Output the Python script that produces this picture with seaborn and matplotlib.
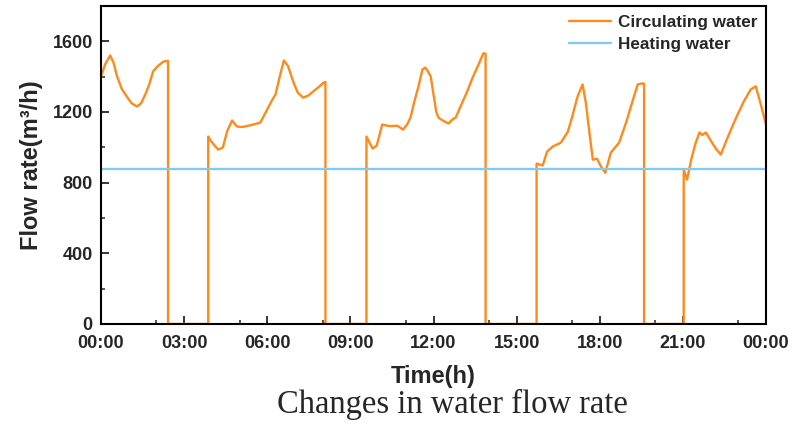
import numpy as np
import pandas as pd
import matplotlib
matplotlib.use("Agg")
import matplotlib.pyplot as plt
from matplotlib.ticker import FixedLocator, FuncFormatter
import seaborn as sns

# ---- data (hours since 00:00, flow m3/h) ----
seg1_h = [0, 0.15, 0.33, 0.45, 0.58, 0.75, 0.93, 1.1, 1.3, 1.45, 1.6, 1.75, 1.88, 2.05, 2.25, 2.42]
seg1_v = [1401, 1470, 1520, 1480, 1401, 1330, 1288, 1250, 1231, 1250, 1300, 1360, 1430, 1460, 1485, 1490]

seg2_h = [3.87, 3.95, 4.1, 4.23, 4.4, 4.55, 4.73, 4.9, 5.1, 5.4, 5.75, 5.95, 6.15, 6.3, 6.45, 6.6,
          6.75, 6.95, 7.1, 7.3, 7.5, 7.67, 7.85, 8.03, 8.1]
seg2_v = [1061, 1040, 1010, 987, 1000, 1090, 1152, 1118, 1115, 1125, 1140, 1200, 1260, 1300, 1400, 1492,
          1460, 1366, 1310, 1281, 1295, 1318, 1340, 1366, 1370]

seg3_h = [9.58, 9.8, 9.95, 10.15, 10.4, 10.7, 10.9, 11.05, 11.17, 11.3, 11.45, 11.6, 11.7, 11.8, 11.9,
          12.0, 12.1, 12.18, 12.35, 12.54, 12.7, 12.8, 13.0, 13.2, 13.4, 13.6, 13.8, 13.88]
seg3_v = [1061, 993, 1010, 1129, 1120, 1122, 1100, 1130, 1168, 1254, 1340, 1440, 1452, 1430, 1401,
          1300, 1200, 1168, 1150, 1135, 1160, 1168, 1240, 1310, 1390, 1460, 1532, 1530]

seg4_h = [15.72, 15.94, 16.1, 16.3, 16.6, 16.85, 17.0, 17.2, 17.38, 17.5, 17.6, 17.75, 17.9, 18.05,
          18.2, 18.4, 18.7, 18.95, 19.2, 19.37, 19.55, 19.6]
seg4_v = [908, 897, 976, 1004, 1027, 1089, 1170, 1288, 1356, 1250, 1118, 930, 936, 890,
          856, 970, 1027, 1140, 1270, 1356, 1362, 1360]

seg5_h = [21.03, 21.15, 21.3, 21.45, 21.6, 21.7, 21.83, 22.0, 22.2, 22.37, 22.6, 22.9, 23.2, 23.45,
          23.63, 23.8, 24.0]
seg5_v = [874, 817, 930, 1020, 1084, 1070, 1084, 1040, 990, 959, 1050, 1160, 1260, 1328,
          1345, 1250, 1129]

heating_h = [0, 24]
heating_v = [880, 880]

x_ticks = [0, 3, 6, 9, 12, 15, 18, 21, 24]
x_minor = [2, 5, 8, 11, 14, 17, 20, 23]
y_ticks = [0, 400, 800, 1200, 1600]
y_minor = [200, 600, 1000, 1400]

# build circulating series with pump-off periods at zero
segs = [(seg1_h, seg1_v), (seg2_h, seg2_v), (seg3_h, seg3_v), (seg4_h, seg4_v), (seg5_h, seg5_v)]
th, tv = [], []
for i, (h, v) in enumerate(segs):
    if i > 0:
        th += [h[0]]
        tv += [0]
    th += list(h)
    tv += list(v)
    if i < len(segs) - 1:
        th += [h[-1]]
        tv += [0]

df = pd.DataFrame({"Time": th, "Flow": tv})
dfh = pd.DataFrame({"Time": heating_h, "Flow": heating_v})

sns.set_style("ticks")
plt.rcParams['font.family'] = ['Liberation Sans', 'DejaVu Sans']
plt.rcParams['font.weight'] = 'bold'

fig = plt.figure(figsize=(8.07, 4.25), dpi=100)
ax = fig.add_axes([101/807, 1-324/425, (766-101)/807, (324-6)/425])

sns.lineplot(data=df, x="Time", y="Flow", ax=ax, color="#FF8A1C", linewidth=1.7,
             label="Circulating water", sort=False, estimator=None)
sns.lineplot(data=dfh, x="Time", y="Flow", ax=ax, color="#7FCBF3", linewidth=1.7,
             label="Heating water", sort=False, estimator=None)

ax.set_xlim(0, 24)
ax.set_ylim(0, 1800)
ax.xaxis.set_major_locator(FixedLocator(x_ticks))
ax.xaxis.set_minor_locator(FixedLocator(x_minor))
ax.xaxis.set_major_formatter(FuncFormatter(lambda v, p: "%02d:00" % (int(round(v)) % 24)))
ax.yaxis.set_major_locator(FixedLocator(y_ticks))
ax.yaxis.set_minor_locator(FixedLocator(y_minor))

ax.tick_params(which='major', direction='in', length=6, width=1.3, labelsize=13)
ax.tick_params(axis='x', which='major', pad=8)
ax.tick_params(axis='y', which='major', pad=6)
ax.tick_params(which='minor', direction='in', length=3, width=1.1)
ax.tick_params(axis='x', which='both', top=False)
ax.tick_params(axis='y', which='both', right=False)
for lab in ax.get_xticklabels() + ax.get_yticklabels():
    lab.set_fontweight('bold')

for s in ax.spines.values():
    s.set_visible(True)
    s.set_linewidth(1.5)
    s.set_color('black')

ax.set_xlabel("Time(h)", fontsize=17, fontweight='bold', labelpad=9)
ax.set_ylabel("Flow rate(m³/h)", fontsize=17, fontweight='bold')
ax.yaxis.set_label_coords(-0.087, 0.5)

leg = ax.legend(loc='upper right', frameon=False, fontsize=12.3, handlelength=2.5,
                handletextpad=0.4, borderaxespad=0.1, labelspacing=0.45)
for t in leg.get_texts():
    t.set_fontweight('bold')

fig.text(452/807, 1-404/425, "Changes in water flow rate", ha='center', va='center',
         fontsize=23.5, family=['Liberation Serif', 'DejaVu Serif'], fontweight='normal')

fig.savefig("out.png", dpi=100)
